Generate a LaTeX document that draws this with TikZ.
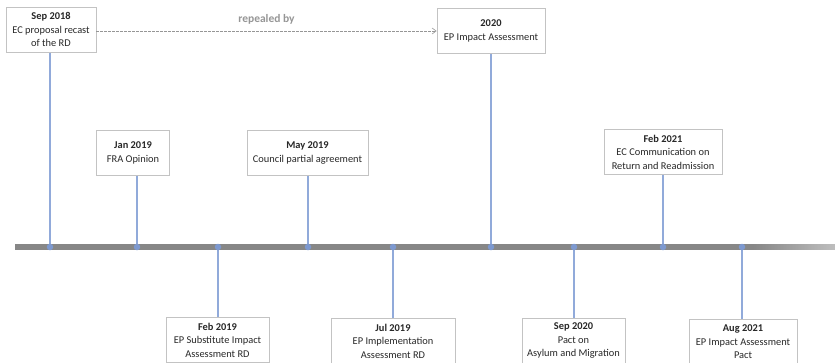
\documentclass[tikz,border=0pt]{standalone}
\usepackage{fontspec}
\setmainfont{Carlito}
\usetikzlibrary{arrows.meta}
\definecolor{stemblue}{RGB}{145,170,218}
\definecolor{dotblue}{RGB}{125,153,208}
\definecolor{linegray}{RGB}{135,135,135}
\definecolor{fadegray}{RGB}{190,190,190}
\definecolor{boxgray}{RGB}{195,195,195}
\definecolor{txtgray}{RGB}{40,40,40}
\definecolor{dashgray}{RGB}{150,150,150}
\pgfdeclarehorizontalshading{tlfade}{100bp}{color(0bp)=(linegray); color(25bp)=(linegray); color(70bp)=(linegray); color(75bp)=(fadegray); color(100bp)=(fadegray)}
\tikzset{
  evbox/.style={draw=boxgray, line width=0.8pt, fill=white, minimum height=45pt, align=center,
    font=\fontsize{10.4}{13.5}\selectfont, text=txtgray, inner sep=2pt},
  topbox/.style={evbox, anchor=north},
  dotmark/.style={circle, fill=dotblue, inner sep=0pt, minimum size=6.5pt},
  stem/.style={draw=stemblue, line width=2.8pt},
  repeal/.style={draw=dashgray, dashed, line width=0.6pt, dash pattern=on 2.5pt off 1.5pt, -{Straight Barb[length=4pt,width=6pt]}}
}
\begin{document}
\begin{tikzpicture}[x=1pt,y=-1pt]
\useasboundingbox[fill=white] (0,0) rectangle (835,362);
% timeline
\coordinate (tlL) at (15,244.5);
\coordinate (tlR) at (835,249.5);
\shade[shading=tlfade] (tlL) rectangle (tlR);
% top boxes
\node[topbox, minimum width=90pt] (A) at (51,7) {\textbf{Sep 2018}\\EC proposal recast\\of the RD};
\node[topbox, minimum width=108pt] (B) at (491,8) {\textbf{2020}\\EP Impact Assessment};
\node[topbox, minimum width=73pt] (C) at (133,130) {\textbf{Jan 2019}\\FRA Opinion};
\node[topbox, minimum width=121pt] (D) at (307.5,130) {\textbf{May 2019}\\Council partial agreement};
\node[topbox, minimum width=118pt] (E) at (663,129) {\textbf{Feb 2021}\\EC Communication on\\Return and Readmission};
% bottom boxes
\node[topbox, minimum width=103pt] (F) at (217.5,317) {\textbf{Feb 2019}\\EP Substitute Impact\\Assessment RD};
\node[topbox, minimum width=124pt] (G) at (393,318) {\textbf{Jul 2019}\\EP Implementation\\Assessment RD};
\node[topbox, minimum width=103pt] (H) at (573.5,318) {\textbf{Sep 2020}\\Pact on\\Asylum and Migration};
\node[topbox, minimum width=108pt] (I) at (743,319) {\textbf{Aug 2021}\\EP Impact Assessment\\Pact};
% dots on the timeline
\coordinate (dA) at (50,247);
\coordinate (dC) at (137,247);
\coordinate (dF) at (218,247);
\coordinate (dD) at (308,247);
\coordinate (dG) at (393,247);
\coordinate (dB) at (491,247);
\coordinate (dH) at (574,247);
\coordinate (dE) at (663,247);
\coordinate (dI) at (742,247);
% stems
\draw[stem] (A.south -| dA) -- (dA);
\draw[stem] (C.south -| dC) -- (dC);
\draw[stem] (D.south -| dD) -- (dD);
\draw[stem] (B.south -| dB) -- (dB);
\draw[stem] (E.south -| dE) -- (dE);
\draw[stem] (dF) -- (F.north -| dF);
\draw[stem] (dG) -- (G.north -| dG);
\draw[stem] (dH) -- (H.north -| dH);
\draw[stem] (dI) -- (I.north -| dI);
\foreach \d in {dA,dC,dF,dD,dG,dB,dH,dE,dI} \node[dotmark] at (\d) {};
% repealed by
\draw[repeal] (A.east |- 0,31) -- (B.west |- 0,31) node[midway, above=3pt, text=dashgray, font=\fontsize{11.5}{13}\selectfont\bfseries] (rep) {repealed by};
\end{tikzpicture}
\end{document}
